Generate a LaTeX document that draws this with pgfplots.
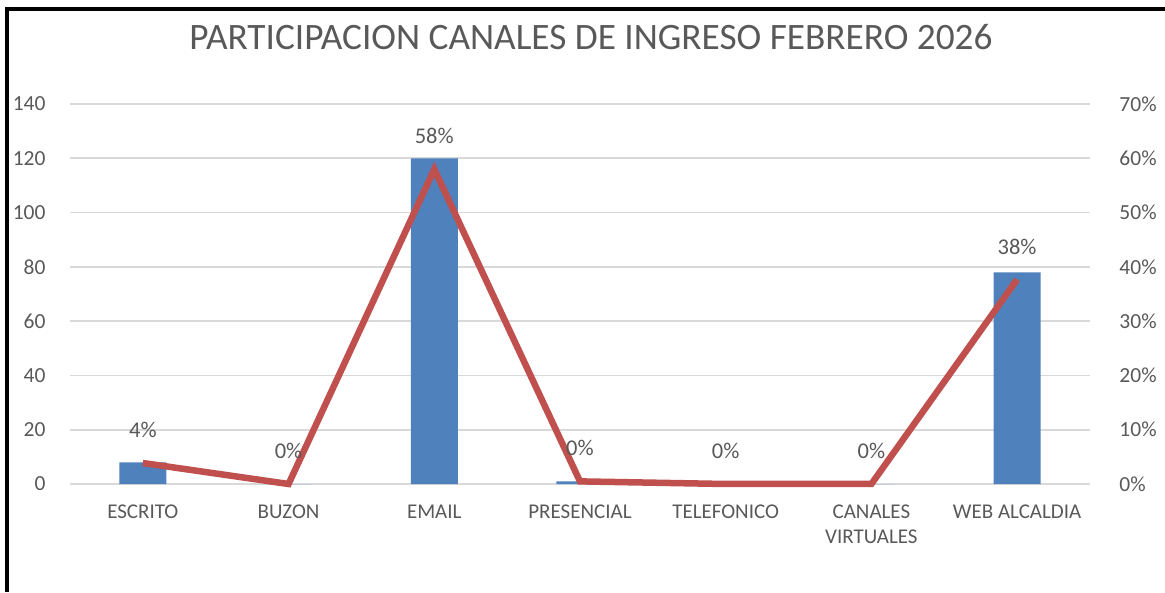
\documentclass[border=0pt]{standalone}
\usepackage{pgfplots}
\pgfplotsset{compat=1.18}
\usepackage{fontspec}
\setmainfont{Carlito}
\definecolor{barblue}{HTML}{4F81BD}
\definecolor{linered}{HTML}{C0504D}
\definecolor{txt}{HTML}{595959}
\definecolor{gridc}{HTML}{D9D9D9}
\begin{document}
\begin{tikzpicture}
\path[use as bounding box] (0,0) rectangle (1165pt,592pt);
\draw[line width=3.5pt] (7pt,0) -- (7pt,583pt) -- (1165pt,583pt);
\node[text=txt, font=\fontsize{37.3}{42}\selectfont] at (591pt,555pt) {PARTICIPACION CANALES DE INGRESO FEBRERO 2026};
\begin{axis}[
  at={(70pt,108pt)}, anchor=south west,
  scale only axis, width=1020pt, height=380pt,
  xmin=-0.5, xmax=6.5, ymin=0, ymax=140,
  ytick={0,20,...,140},
  xtick={0,...,6},
  xticklabels={ESCRITO,BUZON,EMAIL,PRESENCIAL,TELEFONICO,{CANALES\\VIRTUALES},WEB ALCALDIA},
  xticklabel style={align=center, font=\fontsize{21}{25}\selectfont, text=txt, yshift=-17pt},
  yticklabel style={font=\fontsize{21.5}{25}\selectfont, text=txt, xshift=-21pt},
  /pgf/number format/assume math mode=true,
  axis line style={draw=none},
  major tick style={draw=none},
  ymajorgrids, grid style={gridc, line width=1.6pt},
  clip=false,
]
\addplot[ybar, bar width=47pt, fill=barblue, draw=none] coordinates {
  (0,8) (1,0) (2,120) (3,1) (4,0) (5,0) (6,78)
};
\end{axis}
\begin{axis}[
  at={(70pt,108pt)}, anchor=south west,
  scale only axis, width=1020pt, height=380pt,
  xmin=-0.5, xmax=6.5, ymin=0, ymax=70,
  axis x line=none,
  axis y line*=right,
  ytick={0,10,...,70},
  yticklabel={\pgfmathprintnumber{\tick}\%},
  yticklabel style={font=\fontsize{21.5}{25}\selectfont, text=txt, xshift=26pt},
  /pgf/number format/assume math mode=true,
  axis line style={draw=none},
  major tick style={draw=none},
  clip=false,
]
\addplot[linered, line width=6.5pt, line join=miter,
  nodes near coords, point meta=explicit symbolic,
  every node near coord/.append style={anchor=center, yshift=33pt, text=txt, font=\fontsize{22.5}{25}\selectfont}]
  coordinates {
  (0,3.865) [4\%]
  (1,0) [0\%]
  (2,57.97) [58\%]
  (3,0.483) [0\%]
  (4,0) [0\%]
  (5,0) [0\%]
  (6,37.68) [38\%]
};
\end{axis}
\end{tikzpicture}
\end{document}
